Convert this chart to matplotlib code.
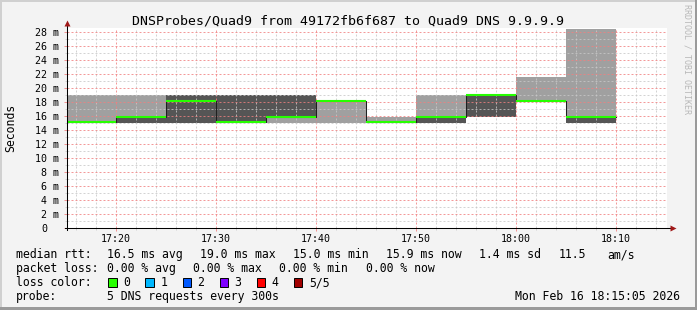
import matplotlib.pyplot as plt
from matplotlib.patches import Rectangle
from matplotlib.ticker import MultipleLocator
from matplotlib.transforms import offset_copy

W, H = 697, 310

# 5 minute intervals, start in minutes after 17:00
starts = [15, 20, 25, 30, 35, 40, 45, 50, 55, 60, 65]
step_min = 5
# the 5 DNS round trip times per interval, sorted (ms)
ping1 = [15.0, 15.0, 15.0, 15.0, 15.0, 15.0, 15.0, 15.0, 15.9, 18.2, 15.0]
ping2 = [15.1, 15.0, 15.0, 15.0, 15.9, 18.2, 15.1, 15.0, 15.9, 18.2, 15.0]
median = [15.1, 15.9, 18.2, 15.1, 15.9, 18.2, 15.1, 15.9, 19.0, 18.2, 15.9]
ping4 = [15.1, 15.9, 19.0, 19.0, 19.0, 18.2, 15.1, 15.9, 19.0, 18.2, 15.9]
ping5 = [19.0, 19.0, 19.0, 19.0, 19.0, 18.2, 15.9, 19.0, 19.0, 21.6, 28.4]
loss = [0, 0, 0, 0, 0, 0, 0, 0, 0, 0, 0]

loss_labels = ['0', '1', '2', '3', '4', '5/5']
loss_colors = ['#26ff00', '#00b8ff', '#0059ff', '#7e00ff', '#ff0000', '#a10000']

time_ticks = [20, 30, 40, 50, 60, 70]
time_labels = ['17:20', '17:30', '17:40', '17:50', '18:00', '18:10']
y_ticks = list(range(0, 29, 2))

MONO = 'DejaVu Sans Mono'
plt.rcParams['font.family'] = MONO
plt.rcParams['lines.scale_dashes'] = False


def px(x, y):
    return x / W, 1 - y / H


fig = plt.figure(figsize=(W / 100, H / 100), dpi=100, facecolor='#f3f3f3')
ax = fig.add_axes([67 / W, 1 - 228 / H, 600 / W, 200 / H])
ax.set_facecolor('white')

edges = starts + [starts[-1] + step_min]
ends = edges[1:]


def ext(v):
    return list(v) + [v[-1]]


# smoke: outer pings light, inner pings dark
ax.fill_between(edges, ext(ping1), ext(ping5), step='post', color='#a0a0a0', lw=0, zorder=1)
ax.fill_between(edges, ext(ping2), ext(ping4), step='post', color='#555555', lw=0, zorder=1.1)
ax.step(edges, ext(median), where='post', color='#202020', lw=0.75, zorder=3)
ax.hlines(median, starts, ends, colors=[loss_colors[l] for l in loss], lw=1.5, zorder=3.5)

ax.set_xlim(15 + 5 / 60, 75 + 5 / 60)
ax.set_ylim(0, 200 / 7)

ax.xaxis.set_major_locator(MultipleLocator(10))
ax.xaxis.set_minor_locator(MultipleLocator(2))
ax.yaxis.set_major_locator(MultipleLocator(2))
ax.yaxis.set_minor_locator(MultipleLocator(1))
ax.set_axisbelow(False)
dots = (0, (1.44, 1.44))
ax.grid(which='minor', color='#c8c8c8', alpha=0.8, lw=0.72, ls=dots)
ax.grid(which='major', color='#f08080', alpha=0.8, lw=0.72, ls=dots)
ax.tick_params(which='both', labelbottom=False, labelleft=False, direction='out')
ax.tick_params(which='major', length=2.5, width=0.7, color='#f09090')
ax.tick_params(which='minor', length=1.5, width=0.7, color='#d0d0d0')
for s in ax.spines.values():
    s.set_visible(False)

# axes with arrows
ax.plot([-2 / 600, 1 + 4 / 600], [0, 0], transform=ax.transAxes, color='black',
        lw=0.75, clip_on=False, zorder=5)
ax.plot([0, 0], [-2 / 200, 1 + 3 / 200], transform=ax.transAxes, color='black',
        lw=0.75, clip_on=False, zorder=5)
ax.plot([1 + 5.5 / 600], [0], marker='>', ms=4, color='#a01818', mec='none',
        transform=ax.transAxes, clip_on=False, zorder=6)
ax.plot([0], [1 + 5 / 200], marker='^', ms=4, color='#a01818', mec='none',
        transform=ax.transAxes, clip_on=False, zorder=6)

# axis labels
ylab_tr = offset_copy(ax.get_yaxis_transform(), fig=fig, x=-8, y=-3.6, units='dots')
zero_tr = offset_copy(ax.get_yaxis_transform(), fig=fig, x=-20, y=-3.6, units='dots')
for v in y_ticks:
    if v == 0:
        ax.text(0, v, '0', transform=zero_tr, ha='right', va='baseline', fontsize=7.2)
    else:
        ax.text(0, v, f'{v} m', transform=ylab_tr, ha='right', va='baseline', fontsize=7.2)
xlab_tr = offset_copy(ax.get_xaxis_transform(), fig=fig, x=0, y=-13.5, units='dots')
for t, lab in zip(time_ticks, time_labels):
    ax.text(t, 0, lab, transform=xlab_tr, ha='center', va='baseline', fontsize=7.2)

fig.text(*px(347.5, 24.3), 'DNSProbes/Quad9 from 49172fb6f687 to Quad9 DNS 9.9.9.9',
         ha='center', va='baseline', fontsize=9.5)
fig.text(*px(11, 127.5), 'Seconds', rotation=90, ha='center', va='center', fontsize=8.3)
fig.text(*px(687.5, 59), 'RRDTOOL / TOBI OETIKER', rotation=270, ha='center', va='center',
         fontsize=6, color='#b8b8b8')

# legend
fs = 8.3
rows = [258.3, 272.3, 286.3, 300.3]
rtt = [(16, 'median rtt:'), (107.3, '16.5 ms avg'), (200.3, '19.0 ms max'),
       (293.3, '15.0 ms min'), (386.3, '15.9 ms now'), (479.3, '1.4 ms sd'),
       (558.3, '11.5'), (607, 'am/s')]
pl = [(16, 'packet loss:'), (107.3, '0.00 % avg'), (193.3, '0.00 % max'),
      (279.3, '0.00 % min'), (366, '0.00 % now')]
for x, s in rtt:
    fig.text(*px(x, rows[0]), s, ha='left', va='baseline', fontsize=fs)
for x, s in pl:
    fig.text(*px(x, rows[1]), s, ha='left', va='baseline', fontsize=fs)
fig.text(*px(16, rows[2]), 'loss color:', ha='left', va='baseline', fontsize=fs)
for i, (lab, c) in enumerate(zip(loss_labels, loss_colors)):
    bx = 108.3 + i * 37.1
    fig.add_artist(Rectangle(px(bx, 287), 8.4 / W, 9.3 / H, transform=fig.transFigure,
                             facecolor=c, edgecolor='black', lw=0.7))
    fig.text(*px(bx + 15, rows[2]), lab, ha='left', va='baseline', fontsize=fs)
fig.text(*px(16, rows[3]), 'probe:', ha='left', va='baseline', fontsize=fs)
fig.text(*px(107.3, rows[3]), '5 DNS requests every 300s', ha='left', va='baseline', fontsize=fs)
fig.text(*px(680.3, rows[3]), 'Mon Feb 16 18:15:05 2026', ha='right', va='baseline', fontsize=fs)

# 3d frame
for (x0, y0, w, h, c) in [(0, 0, W, 2, '#d0d0d0'), (0, 0, 2, H, '#d0d0d0'),
                          (0, H - 3, W, 3, '#9a9a9a'), (W - 2.5, 0, 2.5, H, '#9a9a9a')]:
    fig.add_artist(Rectangle((x0 / W, 1 - (y0 + h) / H), w / W, h / H,
                             transform=fig.transFigure, facecolor=c, edgecolor='none'))

fig.savefig('out.png', dpi=100, facecolor=fig.get_facecolor())
